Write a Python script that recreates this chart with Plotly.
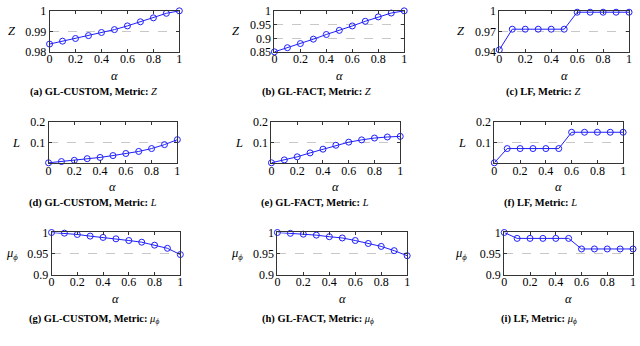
import plotly.graph_objects as go

W, H = 640, 346

alpha = [0, 0.1, 0.2, 0.3, 0.4, 0.5, 0.6, 0.7, 0.8, 0.9, 1.0]

# Row 1: metric Z
z_glcustom = [0.9839, 0.9853, 0.9866, 0.9880, 0.9895, 0.9909, 0.9927, 0.9947, 0.9966, 0.9988, 1.0]
z_glfact = [0.851, 0.866, 0.881, 0.897, 0.914, 0.929, 0.945, 0.962, 0.978, 0.992, 1.0]
z_lf = [0.9433, 0.9733, 0.9733, 0.9733, 0.9733, 0.9733, 0.998, 0.998, 0.998, 0.998, 0.998]

# Row 2: metric L
l_glcustom = [0.003, 0.009, 0.015, 0.023, 0.029, 0.038, 0.048, 0.058, 0.072, 0.091, 0.115]
l_glfact = [0.003, 0.017, 0.032, 0.051, 0.069, 0.088, 0.103, 0.114, 0.123, 0.128, 0.131]
l_lf = [0.003, 0.072, 0.072, 0.072, 0.072, 0.072, 0.151, 0.151, 0.151, 0.151, 0.151]

# Row 3: metric mu_phi
mu_glcustom = [1.0, 0.9984, 0.9953, 0.9914, 0.9883, 0.985, 0.981, 0.977, 0.970, 0.9625, 0.9477]
mu_glfact = [1.0, 0.998, 0.996, 0.9937, 0.990, 0.987, 0.981, 0.974, 0.967, 0.957, 0.945]
mu_lf = [1.0, 0.986, 0.986, 0.986, 0.986, 0.986, 0.961, 0.961, 0.961, 0.961, 0.961]

xticks = [0, 0.2, 0.4, 0.6, 0.8, 1]
xticklabels = ["0", "0.2", "0.4", "0.6", "0.8", "1"]

yticks_z1 = [0.98, 0.99, 1.0]
yticklabels_z1 = ["0.98", "0.99", "1"]
yticks_z2 = [0.85, 0.9, 0.95, 1.0]
yticklabels_z2 = ["0.85", "0.9", "0.95", "1"]
yticks_z3 = [0.94, 0.97, 1.0]
yticklabels_z3 = ["0.94", "0.97", "1"]
yticks_l = [0.1, 0.2]
yticklabels_l = ["0.1", "0.2"]
yticks_mu = [0.9, 0.95, 1.0]
yticklabels_mu = ["0.9", "0.95", "1"]

captions = [
    "<b>(a) GL-CUSTOM, Metric: </b><i>Z</i>",
    "<b>(b) GL-FACT, Metric: </b><i>Z</i>",
    "<b>(c) LF, Metric: </b><i>Z</i>",
    "<b>(d) GL-CUSTOM, Metric: </b><i>L</i>",
    "<b>(e) GL-FACT, Metric: </b><i>L</i>",
    "<b>(f) LF, Metric: </b><i>L</i>",
    "<b>(g) GL-CUSTOM, Metric: </b><i>μ<sub>ϕ</sub></i>",
    "<b>(h) GL-FACT, Metric: </b><i>μ<sub>ϕ</sub></i>",
    "<b>(i) LF, Metric: </b><i>μ<sub>ϕ</sub></i>",
]
ylabels = ["<i>Z</i>"] * 3 + ["<i>L</i>"] * 3 + ["<i>μ<sub>ϕ</sub></i>"] * 3

series = [z_glcustom, z_glfact, z_lf, l_glcustom, l_glfact, l_lf, mu_glcustom, mu_glfact, mu_lf]
ytick_sets = [
    (yticks_z1, yticklabels_z1, [0.98, 1.0]),
    (yticks_z2, yticklabels_z2, [0.85, 1.0]),
    (yticks_z3, yticklabels_z3, [0.94, 1.0]),
    (yticks_l, yticklabels_l, [0.0, 0.2]),
    (yticks_l, yticklabels_l, [0.0, 0.2]),
    (yticks_l, yticklabels_l, [0.0, 0.2]),
    (yticks_mu, yticklabels_mu, [0.9, 1.0]),
    (yticks_mu, yticklabels_mu, [0.9, 1.0]),
    (yticks_mu, yticklabels_mu, [0.9, 1.0]),
]

# pixel boxes: (left, right, top, bottom)
boxes = [
    (47, 178, 4, 47), (274, 405, 4, 47), (501, 632, 4, 47),
    (46, 176, 120, 163), (271, 401, 120, 163), (496, 626, 120, 163),
    (49, 179, 235, 279), (277, 408, 235, 279), (506, 636, 235, 279),
]
ylabel_x = [9, 235, 462, 13, 238, 463, 9, 236, 462]
caption_x = [91, 316, 545, 91, 315, 543, 92, 318, 541]
caption_y = [89, 89, 89, 204, 204, 204, 326, 326, 326]
alpha_y = [72, 72, 72, 188, 188, 188, 304, 304, 304]

FONT = "Liberation Serif"
BLUE = "rgb(30,30,255)"

fig = go.Figure()
layout = dict(
    width=W, height=H,
    margin=dict(l=0, r=0, t=0, b=0),
    paper_bgcolor="white", plot_bgcolor="white",
    showlegend=False,
    font=dict(family=FONT, size=12, color="black"),
)
annotations = []

for i in range(9):
    n = "" if i == 0 else str(i + 1)
    l, r, t, b = boxes[i]
    yt, ytl, yr = ytick_sets[i]
    fig.add_trace(go.Scatter(
        x=alpha, y=series[i], xaxis="x" + n, yaxis="y" + n,
        mode="lines+markers", cliponaxis=False,
        line=dict(color=BLUE, width=1),
        marker=dict(symbol="circle-open", size=6, color=BLUE, line=dict(width=1, color=BLUE)),
    ))
    layout["xaxis" + n] = dict(
        domain=[l / W, r / W], anchor="y" + n, range=[0, 1],
        tickmode="array", tickvals=xticks, ticktext=xticklabels,
        showline=True, mirror="ticks", linecolor="#333", linewidth=1,
        ticks="inside", ticklen=3, tickcolor="#333", showgrid=False, zeroline=False,
        ticklabelstandoff=-4,
        tickfont=dict(family=FONT, size=12),
    )
    layout["yaxis" + n] = dict(
        domain=[1 - b / H, 1 - t / H], anchor="x" + n, range=yr,
        tickmode="array", tickvals=yt, ticktext=ytl,
        showline=True, mirror="ticks", linecolor="#333", linewidth=1,
        ticks="inside", ticklen=3, tickcolor="#333",
        showgrid=True, gridcolor="#c8c8c8", griddash="dash", gridwidth=0.8, zeroline=False,
        tickfont=dict(family=FONT, size=12),
    )
    annotations.append(dict(
        x=ylabel_x[i] / W, y=1 - ((t + b) / 2) / H, xref="paper", yref="paper",
        text=ylabels[i], showarrow=False, xanchor="center", yanchor="middle",
        font=dict(family=FONT, size=12.5),
    ))
    annotations.append(dict(
        x=((l + r) / 2) / W, y=1 - alpha_y[i] / H, xref="paper", yref="paper",
        text="<i>α</i>", showarrow=False, xanchor="center", yanchor="middle",
        font=dict(family=FONT, size=12.5),
    ))
    annotations.append(dict(
        x=caption_x[i] / W, y=1 - caption_y[i] / H, xref="paper", yref="paper",
        text=captions[i], showarrow=False, xanchor="center", yanchor="middle",
        font=dict(family=FONT, size=10.5),
    ))

layout["annotations"] = annotations
fig.update_layout(**layout)
fig.write_html(
    "out.html",
    config={"displayModeBar": False},
    post_script="document.body.style.margin='0';document.body.style.overflow='hidden';",
)
